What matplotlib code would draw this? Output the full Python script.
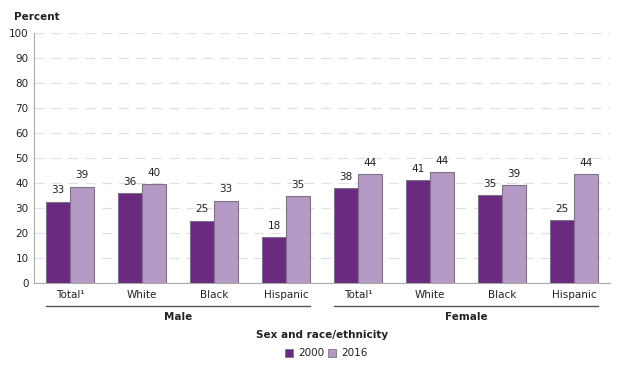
import numpy as np
import matplotlib.pyplot as plt
from matplotlib.patches import Rectangle

# Data
categories = ["Total¹", "White", "Black", "Hispanic", "Total¹", "White", "Black", "Hispanic"]
groups = ["Male", "Female"]
pct_2000 = [32.6, 36.0, 25.0, 18.3, 38.1, 41.1, 35.1, 25.1]
pct_2016 = [38.6, 39.7, 32.9, 34.8, 43.7, 44.3, 39.2, 43.6]
labels_2000 = ["33", "36", "25", "18", "38", "41", "35", "25"]
labels_2016 = ["39", "40", "33", "35", "44", "44", "39", "44"]

c2000 = "#6a2a80"
c2016 = "#b49ac4"
edge = "#7c7386"
plt.rcParams["font.family"] = "DejaVu Sans"

fig = plt.figure(figsize=(6.4, 3.73), dpi=100)
ax = fig.add_axes([34 / 640, 1 - 283 / 373, 576 / 640, 250 / 373])

x = np.arange(len(categories))
w = 1 / 3
b1 = ax.bar(x - w / 2, pct_2000, w, color=c2000, edgecolor=edge, linewidth=0.8, zorder=3)
b2 = ax.bar(x + w / 2, pct_2016, w, color=c2016, edgecolor=edge, linewidth=0.8, zorder=3)

for rect, lab in zip(b1, labels_2000):
    ax.text(rect.get_x() + rect.get_width() / 2, rect.get_height() + 2.5, lab,
            ha="center", va="bottom", fontsize=7.5, color="#222222")
for rect, lab in zip(b2, labels_2016):
    ax.text(rect.get_x() + rect.get_width() / 2, rect.get_height() + 2.5, lab,
            ha="center", va="bottom", fontsize=7.5, color="#222222")

ax.set_xlim(-0.5, 7.5)
ax.set_ylim(0, 100)
ax.set_yticks(range(0, 101, 10))
ax.set_xticks(x)
ax.set_xticklabels(categories)
ax.tick_params(axis="both", length=0, labelsize=7.5, colors="#222222")
ax.tick_params(axis="x", pad=5)
ax.tick_params(axis="y", pad=4)
ax.yaxis.grid(True, color="#e0e0e0", linestyle=(0, (8, 5.5)), linewidth=0.9, zorder=0)
for s in ["top", "right"]:
    ax.spines[s].set_visible(False)
ax.spines["left"].set_color("#aaaaaa")
ax.spines["bottom"].set_color("#aaaaaa")

# group brackets under the x labels
trans = ax.get_xaxis_transform()
for i, g in enumerate(groups):
    x0 = i * 4 - w
    x1 = i * 4 + 3 + w
    ax.plot([x0, x1], [-0.09, -0.09], transform=trans, color="#555555",
            linewidth=1.0, clip_on=False)
    ax.text((x0 + x1) / 2, -0.135, g, transform=trans, ha="center", va="center",
            fontsize=7.5, fontweight="bold", color="#222222")

fig.text(14 / 640, 1 - 17 / 373, "Percent", ha="left", va="center",
         fontsize=7.5, fontweight="bold", color="#222222")
fig.text(322 / 640, 1 - 335 / 373, "Sex and race/ethnicity", ha="center", va="center",
         fontsize=7.5, fontweight="bold", color="#222222")

# legend
for xs, col, lab in [(285, c2000, "2000"), (328, c2016, "2016")]:
    fig.patches.append(Rectangle((xs / 640, 1 - 357 / 373), 8 / 640, 8 / 373,
                                 transform=fig.transFigure, facecolor=col,
                                 edgecolor=edge, linewidth=0.6))
    fig.text((xs + 13) / 640, 1 - 353 / 373, lab, ha="left", va="center",
             fontsize=7.5, color="#222222")

fig.savefig("out.png", dpi=100)
